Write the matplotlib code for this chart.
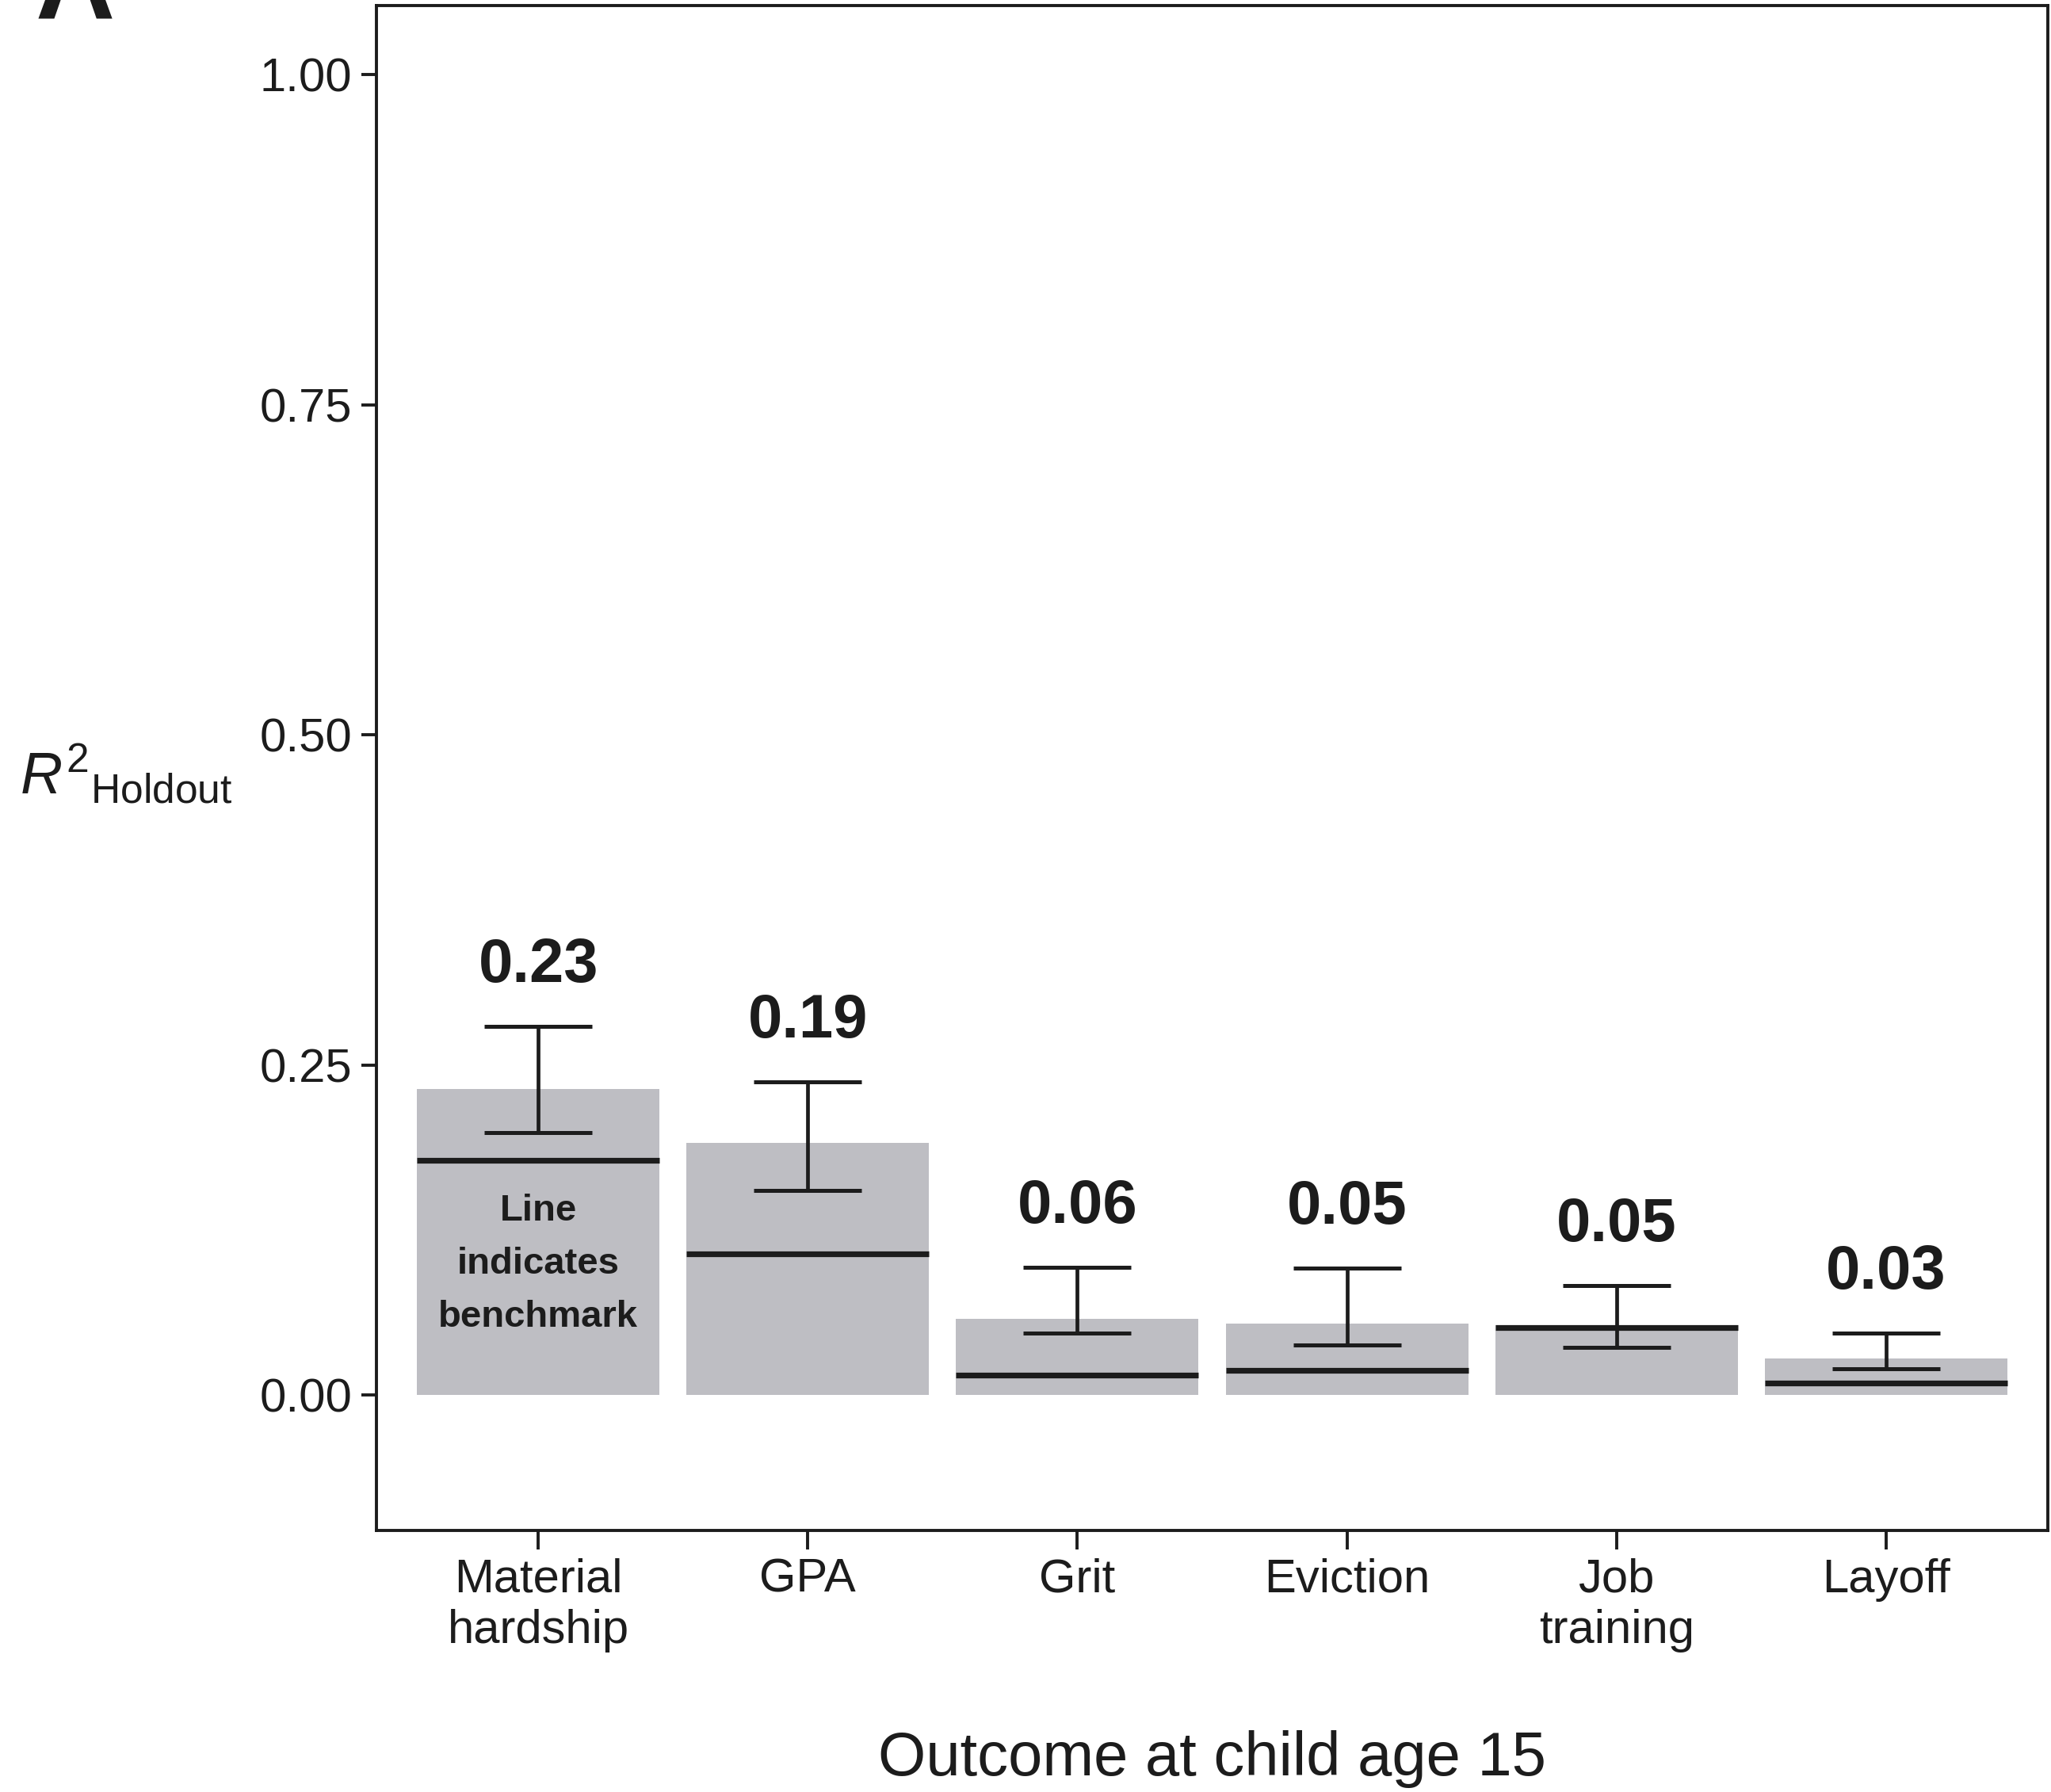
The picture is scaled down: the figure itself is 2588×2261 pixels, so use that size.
import numpy as np
import matplotlib
matplotlib.use('Agg')
import matplotlib.pyplot as plt

plt.rcParams['font.family'] = ['Liberation Sans', 'DejaVu Sans']
plt.rcParams['mathtext.fontset'] = 'custom'
plt.rcParams['mathtext.rm'] = 'Liberation Sans'
plt.rcParams['mathtext.it'] = 'Liberation Sans:italic'

#data
outcomes = ['Material\nhardship', 'GPA', 'Grit', 'Eviction', 'Job\ntraining', 'Layoff']
r2_holdout = [0.232, 0.191, 0.058, 0.054, 0.053, 0.028]
benchmark = [0.178, 0.107, 0.015, 0.019, 0.051, 0.009]
err_low = [0.199, 0.155, 0.047, 0.038, 0.036, 0.020]
err_high = [0.279, 0.237, 0.097, 0.096, 0.083, 0.047]
value_labels = ['0.23', '0.19', '0.06', '0.05', '0.05', '0.03']
y_ticks = [0.00, 0.25, 0.50, 0.75, 1.00]

W, H = 2588, 2261
fig = plt.figure(figsize=(W / 100, H / 100), dpi=100)
ax = fig.add_axes([475 / W, 330 / H, (2584 - 475) / W, (H - 7 - 330) / H])

ink = '#1c1c1c'
x = np.arange(1, len(outcomes) + 1)

ax.bar(x, r2_holdout, width=0.9, color='#bebec3', edgecolor='none', zorder=1)
ax.hlines(benchmark, x - 0.45, x + 0.45, color=ink, lw=5.2, zorder=3)

#error bars with caps in data units
ax.vlines(x, err_low, err_high, color=ink, lw=3.4, zorder=4)
ax.hlines(err_low, x - 0.2, x + 0.2, color=ink, lw=3.6, zorder=4)
ax.hlines(err_high, x - 0.2, x + 0.2, color=ink, lw=3.6, zorder=4)

for xi, top, lab in zip(x, err_high, value_labels):
    ax.text(xi, top + 0.046, lab, ha='center', va='center', fontsize=56,
            fontweight='bold', color=ink)

ax.text(1, 0.099, 'Line\nindicates\nbenchmark', ha='center', va='center',
        fontsize=34, fontweight='bold', color=ink, linespacing=1.68)

ax.set_xlim(0.4, 6.6)
ax.set_ylim(-0.1025, 1.0525)
ax.set_xticks(x)
ax.set_xticklabels(outcomes, fontsize=43, color=ink, linespacing=1.22)
ax.set_yticks(y_ticks)
ax.set_yticklabels([f'{t:.2f}' for t in y_ticks], fontsize=43, color=ink)
ax.tick_params(axis='y', length=14, width=2.8, pad=8, color=ink)
ax.tick_params(axis='x', length=17, width=2.8, pad=8, color=ink)
for sp in ax.spines.values():
    sp.set_linewidth(2.8)
    sp.set_color(ink)

#y label: italic R with superscript 2, subscript placed after it
fig.text(25 / W, 1 - 1002 / H, r'${R^{2}}_{\mathrm{Holdout}}$', ha='left',
         va='baseline', fontsize=53, color=ink)
fig.text(ax.get_position().x0 + ax.get_position().width / 2, 1 - 2220 / H,
         'Outcome at child age 15', ha='center', va='center', fontsize=56, color=ink)

#panel letter, mostly cut off at the top edge
fig.text(45 / W, 1 - 24 / H, 'A', ha='left', va='baseline', fontsize=100,
         fontweight='bold', color=ink)

fig.savefig('out.png', dpi=100)
